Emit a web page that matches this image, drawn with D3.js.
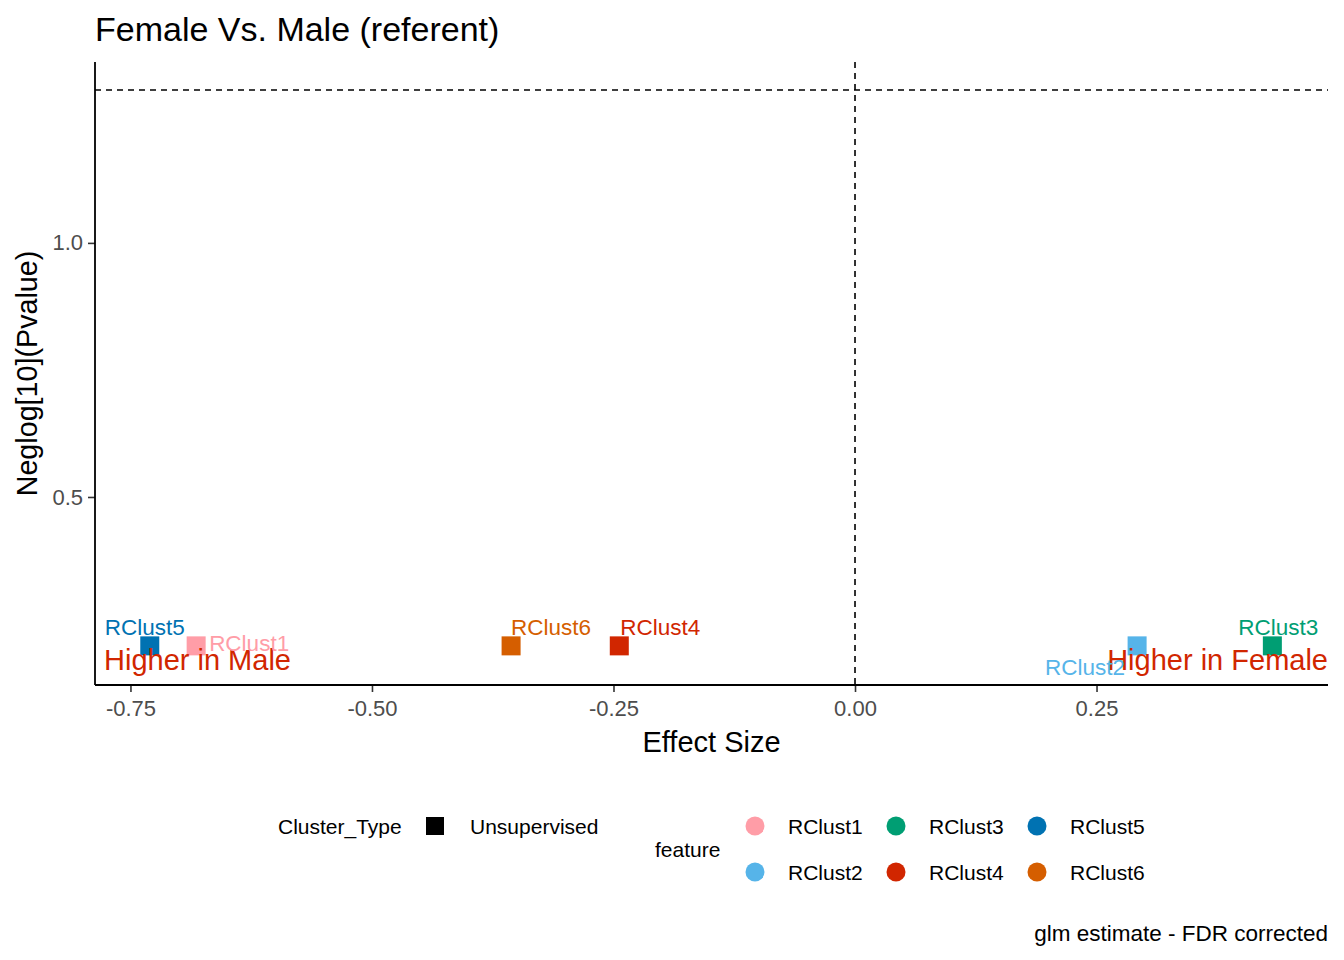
<!DOCTYPE html>
<html>
<head>
<meta charset="utf-8">
<script src="https://d3js.org/d3.v7.min.js"></script>
<style>
  body { margin: 0; background: #fff; }
  text { font-family: "Liberation Sans", Arial, sans-serif; }
</style>
</head>
<body>
<svg id="chart"></svg>
<script>
// data
const features = ["RClust1", "RClust2", "RClust3", "RClust4", "RClust5", "RClust6"];
const effectSize = [-0.682, 0.292, 0.432, -0.244, -0.730, -0.356];
const neglogP = [0.207, 0.207, 0.207, 0.207, 0.207, 0.207];
const clusterType = ["Unsupervised", "Unsupervised", "Unsupervised", "Unsupervised", "Unsupervised", "Unsupervised"];
const xTicks = [-0.75, -0.50, -0.25, 0.00, 0.25];
const yTicks = [0.5, 1.0];
const pThreshold = 0.05;

const colors = ["#FF9DA7", "#56B4E9", "#009E73", "#D12600", "#0072B2", "#D55E00"];
// repel-style label offsets (px) relative to each point
const labelNudge = {
  RClust1: [53, -2], RClust2: [-52, 22], RClust3: [6, -18],
  RClust4: [41, -18], RClust5: [-5, -18], RClust6: [40, -18]
};

const width = 1344, height = 960;
const margin = { top: 62, right: 16, bottom: 275, left: 95 };

const svg = d3.select("#chart").attr("width", width).attr("height", height);

const x = d3.scaleLinear()
            .domain([-0.7867, 0.4896])
            .range([margin.left, width - margin.right]);
const y = d3.scaleLinear()
            .domain([0.130, 1.356])
            .range([height - margin.bottom, margin.top]);
const color = d3.scaleOrdinal().domain(features).range(colors);

const data = features.map((f, i) => ({ feature: f, est: effectSize[i], p: neglogP[i], type: clusterType[i] }));

const fmt = v => d3.format(".2f")(v).replace("\u2212", "-");

// x axis
const xg = svg.append("g")
   .attr("transform", `translate(0, ${height - margin.bottom})`)
   .call(d3.axisBottom(x).tickValues(xTicks).tickFormat(fmt).tickSizeOuter(0).tickSize(7).tickPadding(8));
xg.select(".domain").remove();
xg.selectAll(".tick line").attr("stroke", "#333").attr("stroke-width", 1.6);
xg.selectAll(".tick text").attr("fill", "#4D4D4D").style("font-size", "22px");

// y axis
const yg = svg.append("g")
   .attr("transform", `translate(${margin.left}, 0)`)
   .call(d3.axisLeft(y).tickValues(yTicks).tickFormat(d3.format(".1f")).tickSizeOuter(0).tickSize(7).tickPadding(5));
yg.select(".domain").remove();
yg.selectAll(".tick line").attr("stroke", "#333").attr("stroke-width", 1.6);
yg.selectAll(".tick text").attr("fill", "#4D4D4D").style("font-size", "22px");

// axis lines
svg.append("line")
   .attr("x1", margin.left).attr("x2", width - margin.right)
   .attr("y1", height - margin.bottom).attr("y2", height - margin.bottom)
   .attr("stroke", "#000").attr("stroke-width", 1.8);
svg.append("line")
   .attr("x1", margin.left).attr("x2", margin.left)
   .attr("y1", margin.top).attr("y2", height - margin.bottom)
   .attr("stroke", "#000").attr("stroke-width", 1.8);

// reference lines
svg.append("line")
   .attr("x1", margin.left).attr("x2", width - margin.right)
   .attr("y1", y(-Math.log10(pThreshold))).attr("y2", y(-Math.log10(pThreshold)))
   .attr("stroke", "#000").attr("stroke-width", 1.6).attr("stroke-dasharray", "6,5");
svg.append("line")
   .attr("x1", x(0)).attr("x2", x(0))
   .attr("y1", margin.top).attr("y2", height - margin.bottom)
   .attr("stroke", "#000").attr("stroke-width", 1.6).attr("stroke-dasharray", "6,5");

// points
const sq = 19;
svg.selectAll(".pt")
   .data(data)
   .enter()
   .append("rect")
   .attr("class", "pt")
   .attr("x", d => x(d.est) - sq / 2)
   .attr("y", d => y(d.p) - sq / 2)
   .attr("width", sq)
   .attr("height", sq)
   .attr("fill", d => color(d.feature));

// direction annotations
const annotY = 0.18;
svg.append("text")
   .attr("x", x.range()[0] + 9).attr("y", y(annotY))
   .attr("dominant-baseline", "central")
   .attr("fill", "#D12600").style("font-size", "29px")
   .text("Higher in Male");
svg.append("text")
   .attr("x", x.range()[1]).attr("y", y(annotY))
   .attr("dominant-baseline", "central").attr("text-anchor", "end")
   .attr("fill", "#D12600").style("font-size", "29px")
   .text("Higher in Female");

// point labels
svg.selectAll(".lbl")
   .data(data)
   .enter()
   .append("text")
   .attr("class", "lbl")
   .attr("x", d => x(d.est) + labelNudge[d.feature][0])
   .attr("y", d => y(d.p) + labelNudge[d.feature][1])
   .attr("text-anchor", "middle")
   .attr("dominant-baseline", "central")
   .attr("fill", d => color(d.feature))
   .style("font-size", "22.5px")
   .text(d => d.feature);

// title and axis titles
svg.append("text")
   .attr("x", margin.left).attr("y", 41)
   .style("font-size", "34px").attr("fill", "#000")
   .text("Female Vs. Male (referent)");
svg.append("text")
   .attr("x", (margin.left + width - margin.right) / 2).attr("y", 752)
   .attr("text-anchor", "middle")
   .style("font-size", "29px").attr("fill", "#000")
   .text("Effect Size");
svg.append("text")
   .attr("transform", `translate(37, ${(margin.top + height - margin.bottom) / 2}) rotate(-90)`)
   .attr("text-anchor", "middle")
   .style("font-size", "28.7px").attr("fill", "#000")
   .text("Neglog[10](Pvalue)");

// legend: Cluster_Type
const leg1 = svg.append("g").attr("transform", "translate(278, 826)");
leg1.append("text").attr("x", 0).attr("y", 0).attr("dominant-baseline", "central")
    .style("font-size", "21px").text("Cluster_Type");
leg1.append("rect").attr("x", 148).attr("y", -9).attr("width", 18).attr("height", 18).attr("fill", "#000");
leg1.append("text").attr("x", 192).attr("y", 0).attr("dominant-baseline", "central")
    .style("font-size", "21px").text(Array.from(new Set(clusterType))[0]);

// legend: feature
const leg2 = svg.append("g").attr("transform", "translate(655, 849)");
leg2.append("text").attr("x", 0).attr("y", 0).attr("dominant-baseline", "central")
    .style("font-size", "21px").text("feature");
features.forEach((f, i) => {
  const col = Math.floor(i / 2), row = i % 2;
  const cx = 100 + col * 141, cy = -23 + row * 46;
  leg2.append("circle").attr("cx", cx).attr("cy", cy).attr("r", 9.5).attr("fill", color(f));
  leg2.append("text").attr("x", cx + 33).attr("y", cy).attr("dominant-baseline", "central")
      .style("font-size", "21px").text(f);
});

// caption
svg.append("text")
   .attr("x", width - margin.right).attr("y", 941)
   .attr("text-anchor", "end")
   .style("font-size", "22.5px").attr("fill", "#000")
   .text("glm estimate - FDR corrected");
</script>
</body>
</html>
